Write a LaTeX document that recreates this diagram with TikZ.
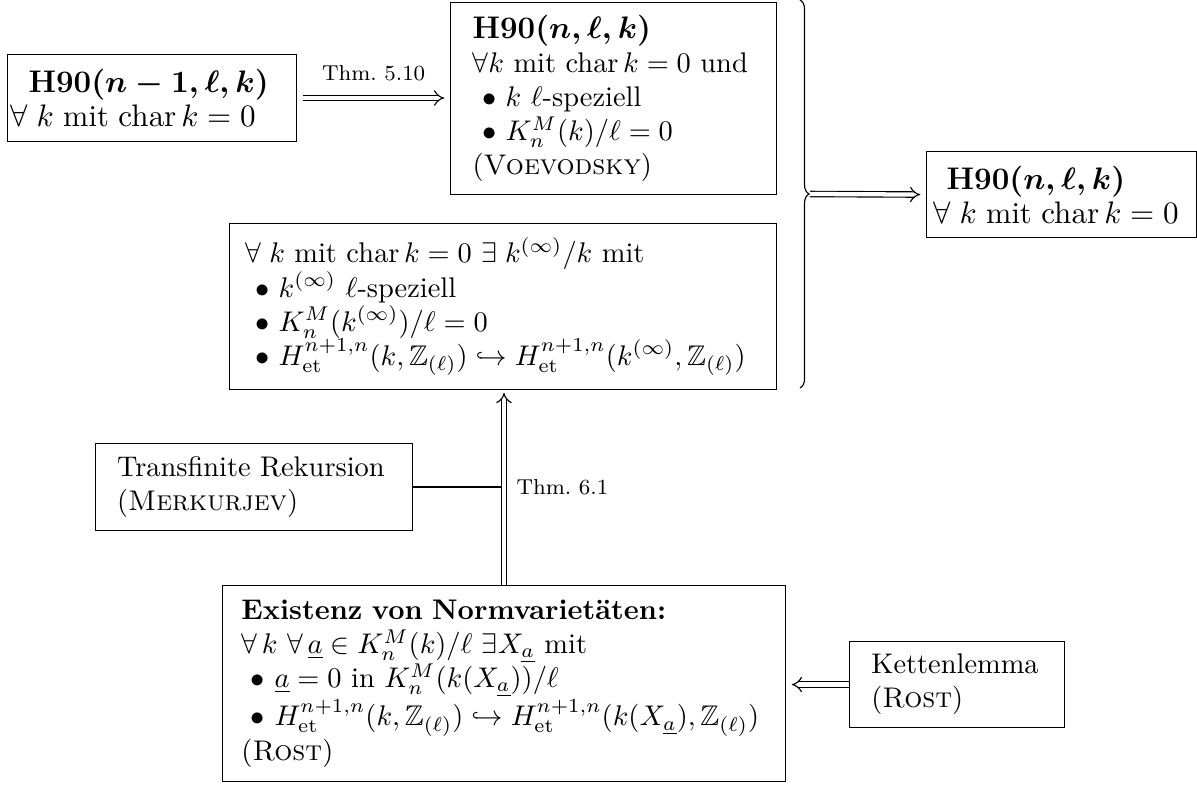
\documentclass[tikz,border=0pt]{standalone}
\usepackage{amsmath,amssymb}
\usetikzlibrary{arrows.meta,decorations.pathreplacing,calc}
\newcommand{\mybul}{\hspace*{3.33pt}$\bullet$ }
\newcommand{\fmit}{$\forall\;k$ mit $\operatorname{char}k=0$}
\newcommand{\hd}[1]{{\fontsize{11}{13}\selectfont\bfseries\boldmath H90$(#1)$}}
\begin{document}
\begin{tikzpicture}[x=0.3521pt,y=-0.3521pt,
  box/.style={draw, anchor=north west, align=left, inner ysep=0pt},
  impl/.style={double, double distance=1.5pt, -{Implies}},
  lab/.style={font=\fontsize{7.6}{9}\selectfont, inner sep=0pt},
]
\useasboundingbox (0,0) rectangle (1197,785);
% boxes
\node[box, minimum width=101.8pt, minimum height=30.6pt, text width=99.6pt, inner xsep=1.06pt] (A) at (7,54)
  {\hspace*{6.3pt}\hd{n-1,\ell,k}\\ \mbox{\fontsize{10.7}{13}\selectfont\fmit}};
\node[box, minimum width=114.8pt, minimum height=67.6pt, text width=99.3pt, inner xsep=7.75pt] (B) at (450,2)
  {\hd{n,\ell,k}\\ $\forall k$ mit $\operatorname{char}k=0$ und\\ \mybul$k$ $\ell$-speziell\\ \mybul$K_n^M(k)/\ell=0$\\ (\textsc{Voevodsky})};
\node[box, minimum width=192.6pt, minimum height=58.4pt, text width=181.3pt, inner xsep=5.6pt] (C) at (229,223)
  {\raisebox{0pt}[\height][0pt]{\fmit\ $\exists\;k^{(\infty)}/k$ mit}\\
   \mybul$k^{(\infty)}$ $\ell$-speziell\\
   \mybul$K_n^M(k^{(\infty)})/\ell=0$\\
   \mybul\mbox{$H^{n+1,n}_{\mathrm{et}}(k,\mathbb{Z}_{(\ell)})\hookrightarrow H^{n+1,n}_{\mathrm{et}}(k^{(\infty)},\mathbb{Z}_{(\ell)})$}};
\node[box, minimum width=95.1pt, minimum height=30.3pt, text width=90.1pt, inner xsep=2.46pt] (D) at (926,151)
  {\hspace*{4.6pt}\hd{n,\ell,k}\\ \mbox{\fontsize{10.7}{13}\selectfont\fmit}};
\node[box, minimum width=111.6pt, minimum height=30.6pt, text width=96.4pt, inner xsep=7.6pt] (E) at (95,443)
  {\mbox{Transfinite Rekursion}\\ (\textsc{Merkurjev})};
\node[box, minimum width=198.2pt, minimum height=69pt, text width=184.9pt, inner xsep=6.65pt] (F) at (222,585)
  {\textbf{Existenz von Normvarietäten:}\\
   $\forall\,k\ \forall\,\underline{a}\in K_n^M(k)/\ell\ \exists X_{\underline{a}}$ mit\\
   \mybul$\underline{a}=0$ in $K_n^M(k(X_{\underline{a}}))/\ell$\\
   \mybul\mbox{$H^{n+1,n}_{\mathrm{et}}(k,\mathbb{Z}_{(\ell)})\hookrightarrow H^{n+1,n}_{\mathrm{et}}(k(X_{\underline{a}}),\mathbb{Z}_{(\ell)})$}\\
   (\textsc{Rost})};
\node[box, minimum width=75.7pt, minimum height=30.3pt, text width=60.3pt, inner xsep=7.7pt] (G) at (849,641)
  {\mbox{Kettenlemma}\\ (\textsc{Rost})};
% brace
\coordinate (bt) at (800,0);
\coordinate (bb) at (800,388);
\coordinate (tip) at (810,194);
\draw[decorate, decoration={brace, amplitude=3.2pt}] (bt) -- (bb);
% connectors
\draw[impl, shorten <=2pt, shorten >=2pt] (A.east) -- node[lab, anchor=base, yshift=6.3pt] {Thm.\ 5.10} (A.east -| B.west);
\draw[impl, shorten >=2pt] (tip) -- (D.west);
\draw[impl, shorten >=1pt] (F.north) -- node[lab, anchor=base west, xshift=4.2pt, yshift=-2.5pt] {Thm.\ 6.1} (F.north |- C.south);
\draw (E.east) -- ([xshift=-1.05pt]E.east -| F.north);
\draw[impl, shorten >=2pt] (G.west) -- (G.west -| F.east);
\end{tikzpicture}
\end{document}
